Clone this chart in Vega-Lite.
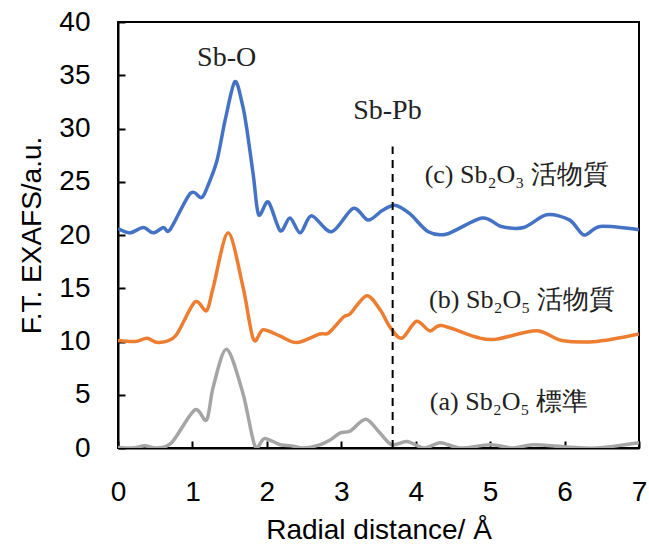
{
  "$schema": "https://vega.github.io/schema/vega-lite/v6.json",
  "width": 521,
  "height": 426,
  "autosize": {"type": "none"},
  "padding": {"left": 118, "top": 22, "right": 10, "bottom": 99},
  "background": "white",
  "config": {
    "view": {"stroke": "black", "strokeWidth": 2},
    "axis": {"grid": false, "domainColor": "black", "domainWidth": 2, "tickColor": "black", "tickWidth": 2, "labelColor": "black", "titleColor": "black", "labelFont": "Liberation Sans", "titleFont": "Liberation Sans", "titleFontWeight": "normal", "labelFlush": false}
  },
  "datasets": {
    "curves": [
      {"s": "c", "x": 0, "y": 20.6}, {"s": "c", "x": 0.16, "y": 20.2}, {"s": "c", "x": 0.34, "y": 20.7}, {"s": "c", "x": 0.47, "y": 20.2}, {"s": "c", "x": 0.61, "y": 20.7}, {"s": "c", "x": 0.7, "y": 20.5}, {"s": "c", "x": 0.97, "y": 23.9}, {"s": "c", "x": 1.12, "y": 23.5}, {"s": "c", "x": 1.2, "y": 24.5}, {"s": "c", "x": 1.33, "y": 27.0}, {"s": "c", "x": 1.44, "y": 30.8}, {"s": "c", "x": 1.57, "y": 34.4}, {"s": "c", "x": 1.67, "y": 32.3}, {"s": "c", "x": 1.73, "y": 30.0}, {"s": "c", "x": 1.82, "y": 25.5}, {"s": "c", "x": 1.89, "y": 21.9}, {"s": "c", "x": 2.02, "y": 23.1}, {"s": "c", "x": 2.18, "y": 20.4}, {"s": "c", "x": 2.31, "y": 21.6}, {"s": "c", "x": 2.45, "y": 20.2}, {"s": "c", "x": 2.6, "y": 21.8}, {"s": "c", "x": 2.87, "y": 20.3}, {"s": "c", "x": 3.16, "y": 22.5}, {"s": "c", "x": 3.36, "y": 21.4}, {"s": "c", "x": 3.55, "y": 22.3}, {"s": "c", "x": 3.72, "y": 22.8}, {"s": "c", "x": 3.92, "y": 22.0}, {"s": "c", "x": 4.17, "y": 20.3}, {"s": "c", "x": 4.42, "y": 20.1}, {"s": "c", "x": 4.89, "y": 21.6}, {"s": "c", "x": 5.15, "y": 20.8}, {"s": "c", "x": 5.45, "y": 20.7}, {"s": "c", "x": 5.76, "y": 21.9}, {"s": "c", "x": 6.07, "y": 21.4}, {"s": "c", "x": 6.26, "y": 20.0}, {"s": "c", "x": 6.48, "y": 20.8}, {"s": "c", "x": 7.0, "y": 20.5},
      {"s": "b", "x": 0, "y": 10.1}, {"s": "b", "x": 0.23, "y": 10.0}, {"s": "b", "x": 0.39, "y": 10.3}, {"s": "b", "x": 0.54, "y": 9.9}, {"s": "b", "x": 0.77, "y": 10.5}, {"s": "b", "x": 1.03, "y": 13.7}, {"s": "b", "x": 1.19, "y": 12.9}, {"s": "b", "x": 1.28, "y": 15.1}, {"s": "b", "x": 1.48, "y": 20.2}, {"s": "b", "x": 1.68, "y": 15.1}, {"s": "b", "x": 1.82, "y": 10.2}, {"s": "b", "x": 1.95, "y": 11.1}, {"s": "b", "x": 2.18, "y": 10.5}, {"s": "b", "x": 2.4, "y": 9.9}, {"s": "b", "x": 2.71, "y": 10.7}, {"s": "b", "x": 2.83, "y": 10.8}, {"s": "b", "x": 3.03, "y": 12.3}, {"s": "b", "x": 3.12, "y": 12.6}, {"s": "b", "x": 3.34, "y": 14.3}, {"s": "b", "x": 3.52, "y": 13.0}, {"s": "b", "x": 3.65, "y": 11.4}, {"s": "b", "x": 3.81, "y": 10.3}, {"s": "b", "x": 4.01, "y": 11.9}, {"s": "b", "x": 4.19, "y": 11.0}, {"s": "b", "x": 4.35, "y": 11.5}, {"s": "b", "x": 4.82, "y": 10.4}, {"s": "b", "x": 5.07, "y": 10.2}, {"s": "b", "x": 5.62, "y": 11.0}, {"s": "b", "x": 5.96, "y": 10.1}, {"s": "b", "x": 6.43, "y": 10.0}, {"s": "b", "x": 7.0, "y": 10.7},
      {"s": "a", "x": 0, "y": 0.05}, {"s": "a", "x": 0.2, "y": 0.0}, {"s": "a", "x": 0.36, "y": 0.2}, {"s": "a", "x": 0.52, "y": 0.0}, {"s": "a", "x": 0.72, "y": 0.5}, {"s": "a", "x": 1.03, "y": 3.57}, {"s": "a", "x": 1.19, "y": 2.63}, {"s": "a", "x": 1.28, "y": 5.75}, {"s": "a", "x": 1.46, "y": 9.27}, {"s": "a", "x": 1.68, "y": 5.1}, {"s": "a", "x": 1.84, "y": 0.2}, {"s": "a", "x": 1.97, "y": 0.9}, {"s": "a", "x": 2.18, "y": 0.3}, {"s": "a", "x": 2.33, "y": 0.2}, {"s": "a", "x": 2.49, "y": 0.0}, {"s": "a", "x": 2.71, "y": 0.3}, {"s": "a", "x": 2.85, "y": 0.75}, {"s": "a", "x": 2.98, "y": 1.4}, {"s": "a", "x": 3.12, "y": 1.6}, {"s": "a", "x": 3.33, "y": 2.7}, {"s": "a", "x": 3.52, "y": 1.4}, {"s": "a", "x": 3.68, "y": 0.3}, {"s": "a", "x": 3.88, "y": 0.6}, {"s": "a", "x": 4.12, "y": 0.0}, {"s": "a", "x": 4.33, "y": 0.5}, {"s": "a", "x": 4.6, "y": 0.0}, {"s": "a", "x": 5.0, "y": 0.3}, {"s": "a", "x": 5.31, "y": 0.0}, {"s": "a", "x": 5.58, "y": 0.3}, {"s": "a", "x": 6.03, "y": 0.1}, {"s": "a", "x": 6.43, "y": 0.0}, {"s": "a", "x": 7.0, "y": 0.5}
    ],
    "peaks": [
      {"x": 1.46, "y": 35.9, "t": "Sb-O"},
      {"x": 3.62, "y": 30.9, "t": "Sb-Pb"}
    ],
    "labels": [
      {"x": 4.12, "y": 24.9, "t": "(c) Sb₂O₃ 活物質"},
      {"x": 4.18, "y": 13.1, "t": "(b) Sb₂O₅ 活物質"},
      {"x": 4.19, "y": 3.6, "t": "(a) Sb₂O₅ 標準"}
    ],
    "rule": [{"x": 3.69, "y": 0, "y2": 28.3}]
  },
  "layer": [
    {
      "data": {"name": "curves"},
      "mark": {"type": "line", "interpolate": "cardinal", "tension": 0.1, "strokeWidth": 3.5, "clip": true},
      "encoding": {
        "x": {"field": "x", "type": "quantitative", "scale": {"domain": [0, 7], "nice": false}, "axis": {"values": [0, 1, 2, 3, 4, 5, 6, 7], "format": "d", "title": "Radial distance/ Å", "tickSize": -7, "labelPadding": 37, "labelFontSize": 28, "titleFontSize": 28, "titlePadding": 10}},
        "y": {"field": "y", "type": "quantitative", "scale": {"domain": [0, 40], "nice": false}, "axis": {"values": [0, 5, 10, 15, 20, 25, 30, 35, 40], "format": "d", "title": "F.T. EXAFS/a.u.", "tickSize": -7, "labelPadding": 35, "labelFontSize": 28, "titleFontSize": 28, "titlePadding": 12}},
        "color": {"field": "s", "type": "nominal", "scale": {"domain": ["a", "b", "c"], "range": ["#A5A5A5", "#ED7D31", "#4472C4"]}, "legend": null}
      }
    },
    {
      "data": {"name": "rule"},
      "mark": {"type": "rule", "color": "black", "strokeWidth": 2, "strokeDash": [8, 6]},
      "encoding": {
        "x": {"field": "x", "type": "quantitative"},
        "y": {"field": "y", "type": "quantitative"},
        "y2": {"field": "y2"}
      }
    },
    {
      "data": {"name": "peaks"},
      "mark": {"type": "text", "font": "Liberation Serif", "fontSize": 28, "align": "center", "baseline": "alphabetic", "color": "#222222"},
      "encoding": {
        "x": {"field": "x", "type": "quantitative"},
        "y": {"field": "y", "type": "quantitative"},
        "text": {"field": "t"}
      }
    },
    {
      "data": {"name": "labels"},
      "mark": {"type": "text", "font": "Liberation Serif", "fontSize": 26, "align": "left", "baseline": "alphabetic", "color": "#222222"},
      "encoding": {
        "x": {"field": "x", "type": "quantitative"},
        "y": {"field": "y", "type": "quantitative"},
        "text": {"field": "t"}
      }
    }
  ]
}
